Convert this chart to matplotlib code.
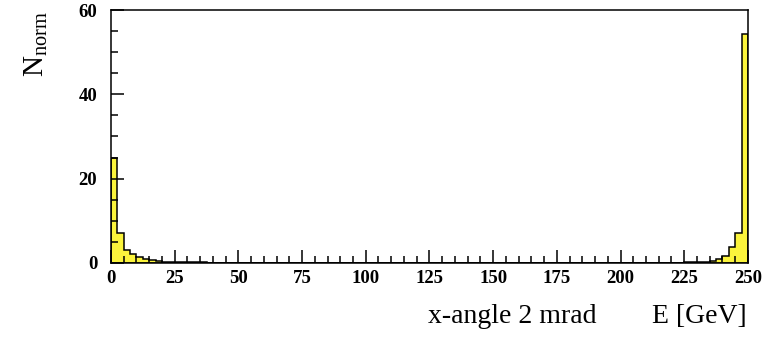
import matplotlib
matplotlib.use("Agg")
import matplotlib.pyplot as plt
import numpy as np
from matplotlib.ticker import MultipleLocator

# energy bins of 2.5 GeV from 0 to 250
bin_edges = np.arange(0, 252.5, 2.5)

# normalised counts, one per bin (100 bins)
low_tail = [25.0, 7.0, 3.0, 2.0, 1.3, 0.9, 0.6, 0.45, 0.3, 0.3,
            0.2, 0.2, 0.15, 0.15, 0.1]
middle = [0.0] * 75
high_peak = [0.1, 0.1, 0.15, 0.2, 0.5, 1.0, 1.7, 3.7, 7.0, 54.3]
counts = low_tail + middle + high_peak

x_ticks = [0, 25, 50, 75, 100, 125, 150, 175, 200, 225, 250]
y_ticks = [0, 20, 40, 60]

plt.rcParams["font.family"] = ["Liberation Serif", "DejaVu Serif"]
plt.rcParams["mathtext.fontset"] = "custom"
plt.rcParams["mathtext.rm"] = "Liberation Serif"

fig = plt.figure(figsize=(7.71, 3.37), dpi=100)
ax = fig.add_axes([0.144, 0.22, 0.826, 0.75])

centers = (bin_edges[:-1] + bin_edges[1:]) / 2
ax.hist(centers, bins=bin_edges, weights=counts, histtype="stepfilled",
        facecolor="#fbf43c", edgecolor="black", linewidth=1.1)

ax.set_xlim(0, 250)
ax.set_ylim(0, 60)
ax.set_xticks(x_ticks)
ax.set_yticks(y_ticks)
ax.xaxis.set_minor_locator(MultipleLocator(5))
ax.yaxis.set_minor_locator(MultipleLocator(5))
ax.tick_params(which="both", direction="in", top=False, right=False,
               width=1.1, labelsize=13.5)
ax.tick_params(which="major", length=9.5)
ax.tick_params(which="minor", length=5)
ax.tick_params(axis="x", pad=5)
ax.tick_params(axis="y", pad=10)
for lab in ax.get_xticklabels() + ax.get_yticklabels():
    lab.set_fontweight("bold")
for sp in ax.spines.values():
    sp.set_linewidth(1.1)

fig.text(0.047, 0.869, r"$\mathrm{N}_{\mathrm{norm}}$", rotation=90,
         fontsize=21, ha="center", va="center")
fig.text(0.555, 0.042, "x-angle 2 mrad", fontsize=20, ha="left", va="baseline")
fig.text(0.846, 0.042, "E [GeV]", fontsize=20, ha="left", va="baseline")

fig.savefig("out.png", dpi=100)
